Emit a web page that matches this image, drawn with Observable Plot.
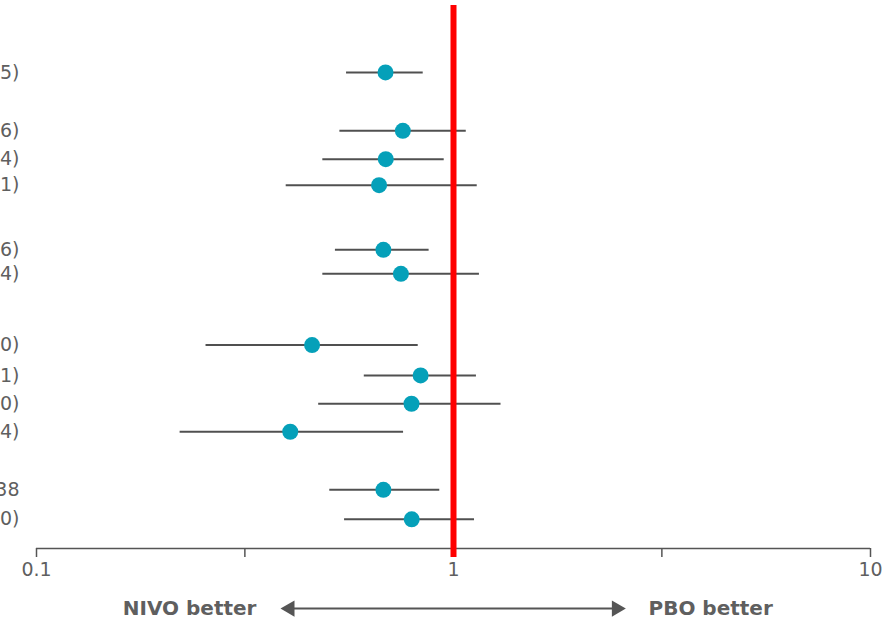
<!DOCTYPE html>
<html><head><meta charset="utf-8">
<script src="https://cdn.jsdelivr.net/npm/d3@7"></script>
<script src="https://cdn.jsdelivr.net/npm/@observablehq/plot@0.6"></script>
<style>body{margin:0;background:#fff;} #chart svg{overflow:visible}</style>
</head><body><div id="chart"></div>
<script>
// Row labels (cut off at the left edge in the reference)
const labels = ["5)", "6)", "4)", "1)", "6)", "4)", "0)", "1)", "0)", "4)", "38", "0)"];
// Row positions in row units (gaps between groups)
const rows = [0, 2.04, 3.03, 3.94, 6.20, 7.04, 9.53, 10.59, 11.58, 12.56, 14.59, 15.62];
// Hazard ratios and 95% CI
const hr    = [0.687, 0.756, 0.688, 0.663, 0.679, 0.748, 0.458, 0.834, 0.793, 0.406, 0.679, 0.794];
const lower = [0.554, 0.534, 0.486, 0.397, 0.521, 0.486, 0.255, 0.611, 0.475, 0.221, 0.505, 0.548];
const upper = [0.846, 1.073, 0.950, 1.140, 0.874, 1.154, 0.823, 1.135, 1.300, 0.759, 0.927, 1.123];
// Axis ticks
const xTicks = [0.1, 0.316, 1, 3.16, 10];
const xTickLabels = ["0.1", "", "1", "", "10"];
const yDomain = [-2.34, 16.64];
// Bottom annotation
const annotText = ["NIVO better", "PBO better"];
const annotX = [0.161, 2.935];
const annotRow = 18.74;
const arrowEnds = [0.405, 2.46];
const refLine = [1];

const data = labels.map((l, i) => ({label: l, row: rows[i], hr: hr[i], lo: lower[i], hi: upper[i]}));
const xFmt = new Map(xTicks.map((t, i) => [t, xTickLabels[i]]));
const yFmt = new Map(rows.map((r, i) => [r, labels[i]]));
const annot = annotText.map((t, i) => ({text: t, x: annotX[i]}));
const arrows = arrowEnds.map((x, i) => ({x, rotate: i === 0 ? -90 : 90}));

const gray = "#555555";
const textGray = "#5f5f5f";
const chart = Plot.plot({
  width: 891,
  height: 624,
  marginLeft: 36,
  marginRight: 21,
  marginTop: 5,
  marginBottom: 76,
  style: {fontFamily: "DejaVu Sans, sans-serif", color: gray, background: "#fff"},
  x: {type: "log", domain: [0.1, 10]},
  y: {type: "linear", domain: yDomain, reverse: true},
  marks: [
    Plot.axisY({ticks: rows, tickFormat: d => yFmt.get(d), tickSize: 0, tickPadding: 17, fontSize: 19, color: textGray, label: null}),
    Plot.axisX({ticks: xTicks, tickFormat: d => xFmt.get(d), tickSize: 9, tickPadding: 5, fontSize: 19, color: textGray, stroke: gray, strokeWidth: 1.5, label: null}),
    Plot.ruleY([yDomain[1]], {stroke: gray, strokeWidth: 1.5}),
    Plot.ruleY(data, {y: "row", x1: "lo", x2: "hi", stroke: "#505050", strokeWidth: 2}),
    Plot.ruleX(refLine, {stroke: "#ff0000", strokeWidth: 6, insetBottom: -9}),
    Plot.dot(data, {x: "hr", y: "row", r: 8, fill: "#05a0b9", stroke: "none"}),
    Plot.ruleY([annotRow], {x1: arrowEnds[0], x2: arrowEnds[1], stroke: gray, strokeWidth: 2}),
    Plot.dot(arrows, {x: "x", y: () => annotRow, symbol: "triangle", r: 6, rotate: "rotate", fill: gray, stroke: "none"}),
    Plot.text(annot, {x: "x", y: () => annotRow, text: "text", textAnchor: "start", fontSize: 20, fill: textGray, fontWeight: "bold"})
  ]
});
document.getElementById("chart").appendChild(chart);
</script>
</body></html>
